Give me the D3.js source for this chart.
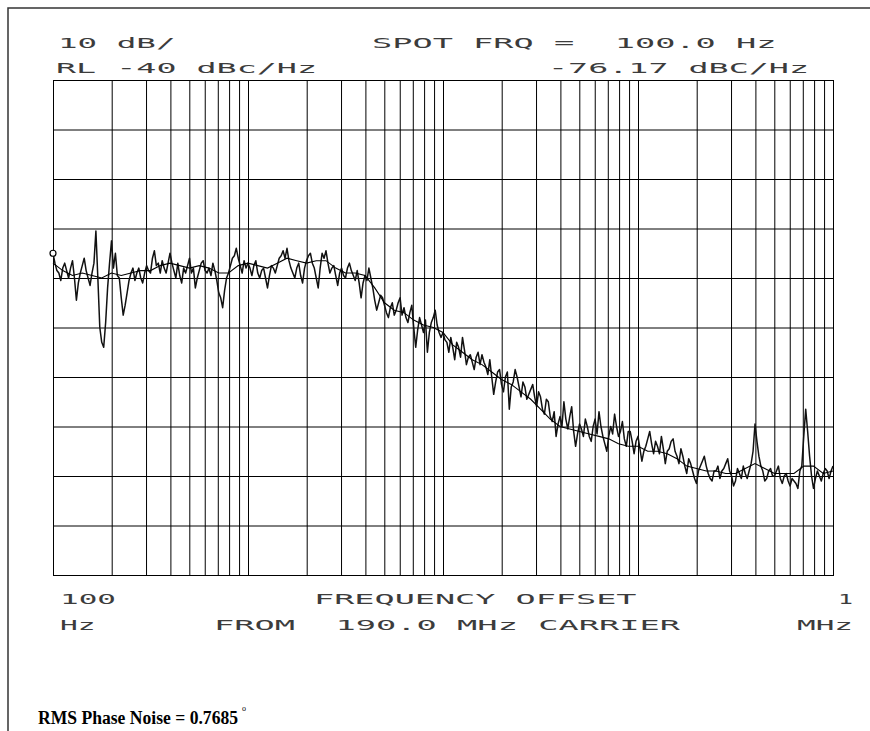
<!DOCTYPE html>
<html>
<head>
<meta charset="utf-8">
<script src="https://cdn.jsdelivr.net/npm/d3@7"></script>
<style>
  body { margin: 0; background: #fff; }
  svg { display: block; }
  .plotter { font-family: "DejaVu Sans Mono", monospace; font-size: 14px; fill: #3c3c3c; white-space: pre; }
  .note { font-family: "Liberation Serif", serif; font-weight: bold; font-size: 18px; fill: #000; }
</style>
</head>
<body>
<svg class="chart"></svg>
<script>

// analyzer sweep: 100 Hz .. 1 MHz, log spaced points
let sweepStart = 100
let sweepStop = 1e6

// raw phase noise trace, dBc/Hz (401 sweep points)
let noiseTrace = [
  -75, -77, -78.5, -79, -80.5, -78, -77, -78.5, -80, -78, -76.5, -80, -84.5, -81, -79, -77.5, -76, -78.5, -80, -81.5,
  -79, -77, -70.5, -80, -90, -93, -94, -89, -82, -77, -72.5, -78, -75, -79.5, -80, -84, -87.5, -85.5, -83, -80.5,
  -79, -78, -80.5, -79, -78, -80, -81, -79, -77.5, -78.5, -79, -76, -74.5, -77.5, -77, -79, -76.5, -78, -79, -77,
  -75, -77, -78.5, -80, -77, -79.5, -81, -78, -79, -77.5, -76, -79, -78, -82, -80, -78.5, -77, -76.5, -78.5, -79,
  -78, -79.5, -77, -78.5, -80.5, -83, -84, -86, -82.5, -80, -79, -77.5, -76, -75.5, -74, -76, -77.5, -79, -76.5, -78,
  -77, -78, -79.5, -77.5, -76.5, -79, -80, -78.5, -78, -80, -82, -79.5, -77.5, -78, -79, -77.5, -76, -75.5, -74.5, -76,
  -74, -76.5, -78, -79, -80, -78, -77, -79.5, -81, -78, -76.5, -75.5, -75, -77, -78, -80, -82, -78, -75, -76,
  -74.5, -77, -79, -78, -77.5, -79.5, -81.5, -79, -78, -79.5, -80, -78, -77, -78.5, -79.5, -80.5, -78.5, -81, -84, -81,
  -79.5, -80.5, -78, -80, -82, -84.5, -86.5, -85, -83.5, -84, -85.5, -87, -88, -86, -85, -87.5, -86.5, -85, -84, -87.5,
  -86, -88, -89, -87, -85.5, -90, -94, -90.5, -88, -89.5, -91, -88.5, -95, -91, -89, -88, -86.5, -89.5, -91, -92,
  -91, -92.5, -93, -95, -92, -94, -96.5, -93, -94, -96, -92, -94.5, -97.5, -96, -95.5, -97, -98.5, -96, -95, -97.5,
  -95.5, -97, -98, -99.5, -96.5, -100, -103.5, -101, -99, -98.5, -101.5, -103, -100, -99, -106.5, -102, -101, -98.5, -100, -102,
  -104, -101, -102, -104.5, -103.5, -102.5, -101.5, -104, -106, -103, -104, -106.5, -107.5, -104.5, -105, -108, -109, -107, -112, -109.5,
  -108, -110, -105, -108.5, -110.5, -108, -106, -111, -114, -111.5, -109.5, -110.5, -112, -108.5, -110, -112, -113, -110, -108.5, -111.5,
  -107, -110, -112, -113.5, -115, -112, -110, -111.5, -107.5, -110, -112, -111, -109, -112.5, -114, -111, -111, -113, -115.5, -113,
  -112, -114.5, -117, -115, -114, -112.5, -111, -113.5, -115.5, -113, -114, -115.5, -112, -114.5, -117.5, -115, -114.5, -113, -112.5, -115,
  -116, -117.5, -114.5, -116, -118, -119.5, -116.5, -117.5, -119, -120.5, -121.5, -119, -118, -117, -116, -118, -119.5, -120.5, -121, -119,
  -119, -118, -120.5, -119, -118.5, -117.5, -116.5, -119, -120, -122, -121, -118.5, -119.5, -120.5, -118, -119.5, -120.5, -119, -117.5, -115,
  -109.5, -113, -116, -118, -119, -121, -120.5, -119, -118.5, -120, -120, -119, -118, -120.5, -121.5, -120, -119.5, -121, -122, -120.5,
  -121, -121.5, -122.5, -119, -118, -112, -106.5, -111, -116, -120, -122.5, -120.5, -119, -120, -121, -119.5, -118.5, -119, -120.5, -119,
  -118
]

// smoothed trace, dBc/Hz (81 sweep points)
let smoothTrace = [
  -77, -78.5, -79.5, -79, -79.5, -80, -79, -79.5, -79, -78.5,
  -78.5, -77.5, -77, -77.5, -78, -77.5, -78, -79, -79, -77.5,
  -77, -77.5, -78, -77, -76, -76.5, -77, -76.5, -76.5, -78,
  -79, -79, -79.5, -82, -85, -86.5, -87, -88.5, -89.5, -90,
  -91, -93.5, -95, -96.5, -97.5, -99, -100.5, -101.5, -103, -104.5,
  -106.5, -108.5, -110, -110.5, -111, -111.5, -112, -112.5, -113.5, -114,
  -114, -115, -115, -115.5, -116.5, -118, -118.5, -119, -119, -119.5,
  -119.5, -118.5, -117.5, -118.5, -119.5, -119.5, -119.5, -118, -118, -119.5,
  -119
]

let refLevel = -40
let dbPerDiv = 10
let divisions = 10

let headerLeft = ["10 dB/", "RL -40 dBc/Hz"]
let headerRight = ["SPOT FRQ =  100.0 Hz", "-76.17 dBC/Hz"]
let footerLeft = ["100", "Hz"]
let footerMid = ["FREQUENCY OFFSET", "FROM  190.0 MHz CARRIER"]
let footerRight = ["1", "MHz"]
let rmsNote = "RMS Phase Noise = 0.7685"

let width = 870
let height = 731
let plot = { left: 53, right: 833, top: 80, bottom: 575 }

let x = d3.scaleLog().domain([sweepStart, sweepStop]).range([plot.left, plot.right])
let y = d3.scaleLinear()
  .domain([refLevel, refLevel - dbPerDiv * divisions])
  .range([plot.top, plot.bottom])

let svg = d3.select(".chart")
    .attr("width", width)
    .attr("height", height)

// page frame (left and top edges only)
svg.append("path")
    .attr("d", "M8," + height + "V8H" + width)
    .attr("fill", "none")
    .attr("stroke", "#333")
    .attr("stroke-width", 1.5)

// log grid - one line per 1..9 x decade
svg.append("g")
    .attr("transform", "translate(0," + plot.bottom + ")")
    .call(d3.axisBottom(x).tickSize(-(plot.bottom - plot.top)).tickFormat(""))
    .call(g => g.select(".domain").remove())
    .call(g => g.selectAll("line").attr("stroke", "#000"))

svg.append("g")
    .attr("transform", "translate(" + plot.left + ",0)")
    .call(d3.axisLeft(y).ticks(divisions).tickSize(-(plot.right - plot.left)).tickFormat(""))
    .call(g => g.select(".domain").remove())
    .call(g => g.selectAll("line").attr("stroke", "#000"))

svg.append("rect")
    .attr("x", plot.left + 0.5)
    .attr("y", plot.top + 0.5)
    .attr("width", plot.right - plot.left)
    .attr("height", plot.bottom - plot.top)
    .attr("fill", "none")
    .attr("stroke", "#000")

function sweep(values) {
  let n = values.length - 1
  return values.map(function(v, i) {
    return { f: sweepStart * Math.pow(sweepStop / sweepStart, i / n), v: v }
  })
}

let line = d3.line()
  .x(function(d) { return x(d.f) })
  .y(function(d) { return y(d.v) })

let noise = sweep(noiseTrace)

svg.append("path")
    .datum(noise)
    .attr("d", line)
    .attr("fill", "none")
    .attr("stroke", "#111")
    .attr("stroke-width", 1.5)
    .attr("stroke-linejoin", "round")

svg.append("path")
    .datum(sweep(smoothTrace))
    .attr("d", line)
    .attr("fill", "none")
    .attr("stroke", "#000")
    .attr("stroke-width", 1.1)

// spot marker
svg.append("circle")
    .attr("cx", x(noise[0].f))
    .attr("cy", y(noise[0].v))
    .attr("r", 3)
    .attr("fill", "#fff")
    .attr("stroke", "#000")
    .attr("stroke-width", 1.2)

// plotter style labels on a fixed character pitch
let pitch = 20.5
function plotText(str, px, py) {
  svg.append("text")
      .attr("class", "plotter")
      .attr("x", px)
      .attr("y", py)
      .attr("textLength", str.length * pitch - 5.5)
      .attr("lengthAdjust", "spacingAndGlyphs")
      .text(str)
}

plotText(headerLeft[0], 58, 48)
plotText(headerLeft[1], 56, 73)
plotText(headerRight[0], 372, 48)
plotText(headerRight[1], 548, 73)

plotText(footerLeft[0], 60, 604)
plotText(footerLeft[1], 60, 630)
plotText(footerMid[0], 314, 604)
plotText(footerMid[1], 214, 630)
plotText(footerRight[0], 838, 604)
plotText(footerRight[1], 797, 630)

svg.append("text")
    .attr("class", "note")
    .attr("x", 38)
    .attr("y", 724)
    .attr("textLength", 200)
    .attr("lengthAdjust", "spacingAndGlyphs")
    .text(rmsNote)

svg.append("text")
    .attr("class", "note")
    .attr("x", 242)
    .attr("y", 711)
    .style("font-size", "8px")
    .style("font-weight", "normal")
    .text("o")

</script>
</body>
</html>
